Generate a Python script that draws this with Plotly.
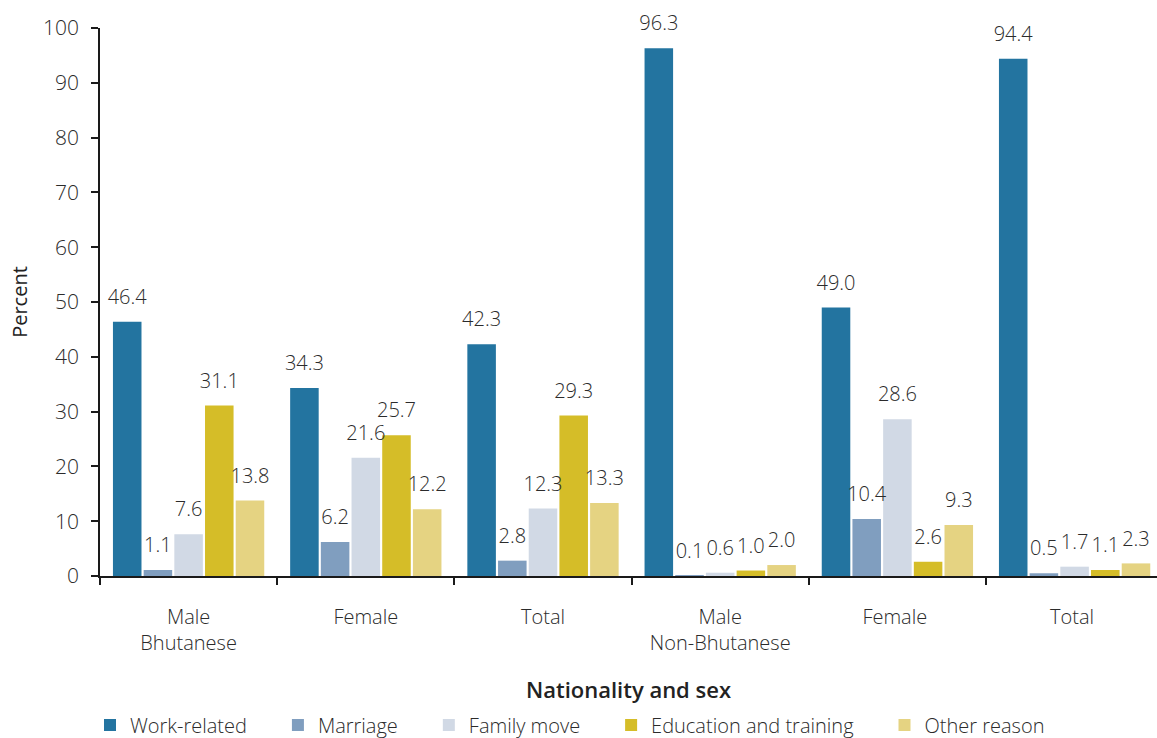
import plotly.graph_objects as go

# Reasons for migration by nationality and sex (percent)
categories = ["Male<br>Bhutanese", "Female", "Total",
              "Male<br>Non-Bhutanese", "Female ", "Total "]
work_related = [46.4, 34.3, 42.3, 96.3, 49.0, 94.4]
marriage = [1.1, 6.2, 2.8, 0.1, 10.4, 0.5]
family_move = [7.6, 21.6, 12.3, 0.6, 28.6, 1.7]
education_training = [31.1, 25.7, 29.3, 1.0, 2.6, 1.1]
other_reason = [13.8, 12.2, 13.3, 2.0, 9.3, 2.3]

series = [
    ("Work-related", work_related, "#2374A0"),
    ("Marriage", marriage, "#809EBF"),
    ("Family move", family_move, "#D1D9E5"),
    ("Education and training", education_training, "#D5BD28"),
    ("Other reason", other_reason, "#E5D382"),
]

FONT = "Open Sans"
TEXT_COLOR = "#333333"
GAP = 0.134
PAD = "\u00a0" * 5  # extra room after each legend entry

fig = go.Figure()
for name, values, color in series:
    fig.add_trace(go.Bar(
        name=name + PAD,
        x=categories,
        y=values,
        marker=dict(color=color, line=dict(width=0)),
        hoverinfo="x+y+name",
    ))

# value labels, grouped the same way as the bars and set just above each bar
for name, values, color in series:
    fig.add_trace(go.Scatter(
        x=categories,
        y=values,
        mode="markers+text",
        marker=dict(size=19, opacity=0, color=color),
        text=[f"{v:.1f}" for v in values],
        textposition="top center",
        textfont=dict(family=FONT, size=20, color="#2b2b2b", weight=300),
        cliponaxis=False,
        showlegend=False,
        hoverinfo="skip",
    ))

fig.update_layout(
    width=1157,
    height=738,
    margin=dict(l=100, r=0, t=28, b=162, autoexpand=False),
    paper_bgcolor="white",
    plot_bgcolor="white",
    barmode="group",
    bargap=GAP,
    bargroupgap=0.07,
    scattermode="group",
    scattergap=GAP,
    font=dict(family=FONT, size=20, color=TEXT_COLOR),
    showlegend=True,
    legend=dict(
        orientation="h",
        xref="container", x=90 / 1157, xanchor="left",
        yref="container", y=1 - 725 / 738, yanchor="middle",
        font=dict(family=FONT, size=20, color="#2b2b2b", weight=300),
        traceorder="normal",
        bgcolor="rgba(0,0,0,0)",
    ),
)

fig.update_xaxes(
    type="category",
    range=[-0.5, 5.465],
    showline=True, linecolor="#1a1a1a", linewidth=1.5,
    ticks="outside", tickson="boundaries", ticklen=7, tickcolor="#1a1a1a", tickwidth=1.5,
    ticklabelstandoff=22,
    tickfont=dict(family=FONT, size=20, color="#2b2b2b", weight=300),
    showgrid=False,
    title=dict(text="Nationality and sex",
               font=dict(family=FONT, size=22, color="#222222", weight=600),
               standoff=28),
)

fig.update_yaxes(
    range=[0, 100],
    dtick=10,
    showline=True, linecolor="#1a1a1a", linewidth=1.5,
    ticks="outside", ticklen=7, tickcolor="#1a1a1a", tickwidth=1.5,
    ticklabelstandoff=8,
    tickfont=dict(family=FONT, size=21, color="#2b2b2b", weight=300),
    showgrid=False, zeroline=False,
    title=dict(text="Percent", font=dict(family=FONT, size=20, color="#222222"),
               standoff=10),
)

fig.write_html("out.html")
